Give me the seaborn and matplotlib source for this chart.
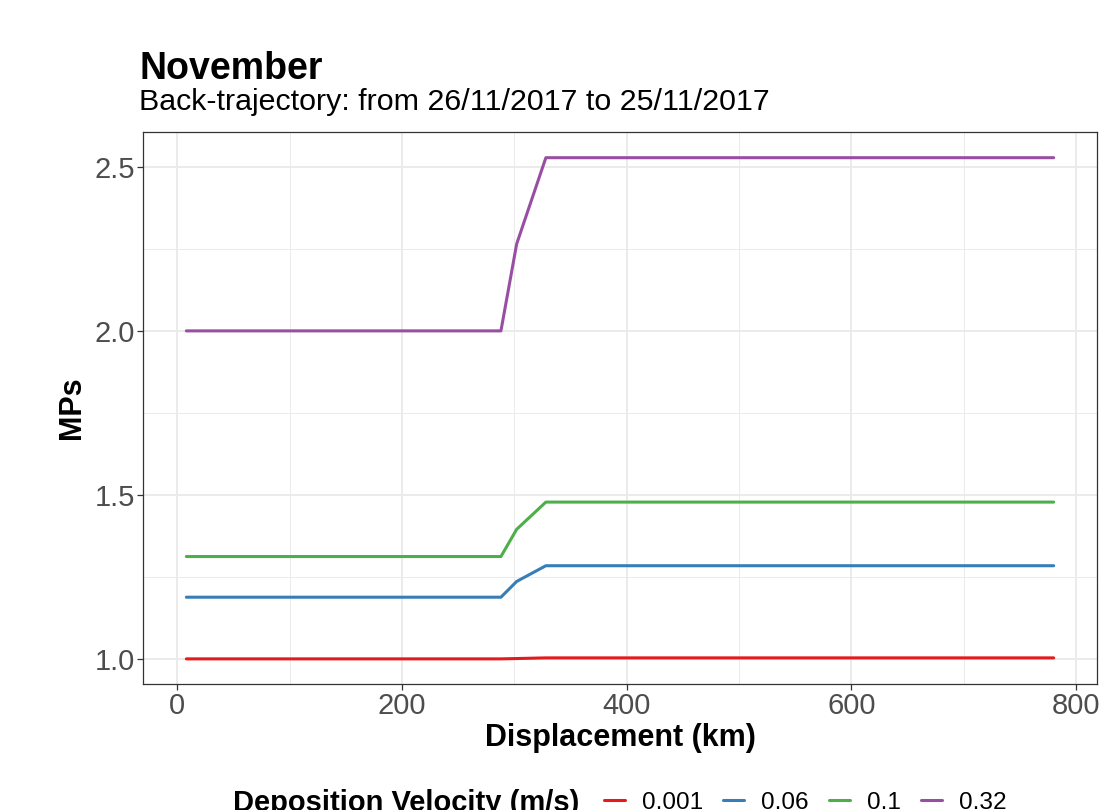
import numpy as np
import pandas as pd
import seaborn as sns
from matplotlib import pyplot as plt
from matplotlib.ticker import MultipleLocator

# valori
displacement = [8, 288, 302, 328, 780]
mps_0001 = [1.000, 1.000, 1.001, 1.003, 1.003]
mps_006 = [1.188, 1.188, 1.236, 1.284, 1.284]
mps_01 = [1.312, 1.312, 1.395, 1.478, 1.478]
mps_032 = [2.000, 2.000, 2.265, 2.528, 2.528]

velocita = ["0.001", "0.06", "0.1", "0.32"]
serie = [mps_0001, mps_006, mps_01, mps_032]
colori = ["#E41A1C", "#377EB8", "#4DAF4A", "#984EA3"]

dati = pd.concat(
    [pd.DataFrame({"Displacement": displacement, "MPs": s, "Velocity": v})
     for v, s in zip(velocita, serie)],
    ignore_index=True,
)

sns.set_style("white")
plt.rcParams['font.family'] = ['Liberation Sans', 'DejaVu Sans']
plt.rcParams['text.color'] = 'black'
plt.rcParams['axes.labelcolor'] = 'black'

fig = plt.figure(figsize=(11, 8.1), dpi=100)
ax = fig.add_axes([0.13, 0.1556, 0.8673, 0.6815])

sns.lineplot(data=dati, x="Displacement", y="MPs", hue="Velocity",
             hue_order=velocita, palette=colori, linewidth=2.2, ax=ax,
             zorder=3)

# assi stile theme_bw
ax.set_xlim(-30.6, 818.6)
ax.set_ylim(0.9235, 2.6065)
ax.xaxis.set_major_locator(MultipleLocator(200))
ax.xaxis.set_minor_locator(MultipleLocator(100))
ax.yaxis.set_major_locator(MultipleLocator(0.5))
ax.yaxis.set_minor_locator(MultipleLocator(0.25))
ax.set_yticks([1.0, 1.5, 2.0, 2.5])
ax.set_yticklabels(["1.0", "1.5", "2.0", "2.5"])
ax.grid(which="major", color="#EBEBEB", linewidth=1.4, zorder=0)
ax.grid(which="minor", color="#EBEBEB", linewidth=0.7, zorder=0)
ax.set_axisbelow(True)
for sp in ax.spines.values():
    sp.set_color("#333333")
    sp.set_linewidth(0.9)
ax.tick_params(which="major", length=4, width=0.9, color="#333333",
               labelsize=21, labelcolor="#4D4D4D", pad=2, bottom=True, left=True)
ax.tick_params(which="minor", length=0)

ax.set_xlabel("Displacement (km)", fontsize=22, fontweight="bold", labelpad=2)
ax.set_ylabel("MPs", fontsize=22, fontweight="bold", labelpad=5)

# titoli
fig.text(0.1264, 0.9025, "November", fontsize=27, fontweight="bold",
         va="baseline", ha="left")
fig.text(0.1264, 0.8645, "Back-trajectory: from 26/11/2017 to 25/11/2017",
         fontsize=21.9, va="baseline", ha="left")

# legenda in basso
handles, labels = ax.get_legend_handles_labels()
ax.get_legend().remove()
fig.text(233 / 1100, -0.0015, "Deposition Velocity (m/s)", fontsize=21,
         fontweight="bold", va="baseline", ha="left")
fig.legend(handles, labels, loc="center left", bbox_to_anchor=(0.549, 0.009),
           ncol=4, frameon=False, fontsize=17.6, handlelength=0.86,
           handletextpad=0.7, columnspacing=0.82, borderpad=0,
           borderaxespad=0)

fig.savefig("out.png", dpi=100)
